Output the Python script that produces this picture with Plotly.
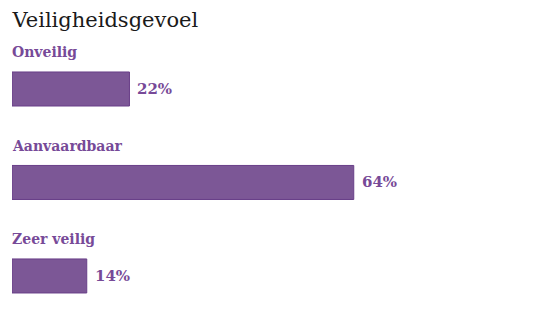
import plotly.graph_objects as go

categories = ["Onveilig", "Aanvaardbaar", "Zeer veilig"]
values = [22, 64, 14]
value_labels = ["22%", "64%", "14%"]
title = "Veiligheidsgevoel"

purple_text = "#774a98"
bar_fill = "#7c5796"
bar_line = "#693f88"
font_family = "DejaVu Serif"

ypos = list(range(len(categories)))

fig = go.Figure()
fig.add_trace(go.Bar(
    x=values, y=ypos, orientation="h", width=0.364,
    marker=dict(color=bar_fill, line=dict(color=bar_line, width=1)),
    hoverinfo="skip",
))

for yv, cat in zip(ypos, categories):
    fig.add_annotation(x=0, y=yv - 0.395, xref="x", yref="y", text="<b>" + cat + "</b>",
                       showarrow=False, xanchor="left", yanchor="middle", xshift=-2,
                       font=dict(family=font_family, size=14, color=purple_text))
for yv, v, lab in zip(ypos, values, value_labels):
    fig.add_annotation(x=v, y=yv, xref="x", yref="y", text="<b>" + lab + "</b>",
                       showarrow=False, xanchor="left", yanchor="middle", xshift=6,
                       font=dict(family=font_family, size=15, color=purple_text))

fig.update_layout(
    width=546, height=317,
    margin=dict(l=12, r=0, t=40, b=0),
    paper_bgcolor="white", plot_bgcolor="white",
    showlegend=False,
    title=dict(text=title, x=12.5/546, xanchor="left", y=1 - 20/317, yanchor="middle",
               font=dict(family=font_family, size=21, color="#1a1a1a")),
    xaxis=dict(range=[0, 100], visible=False, fixedrange=True),
    yaxis=dict(range=[2.439, -0.524], visible=False, fixedrange=True),
)

fig.write_html("out.html")
